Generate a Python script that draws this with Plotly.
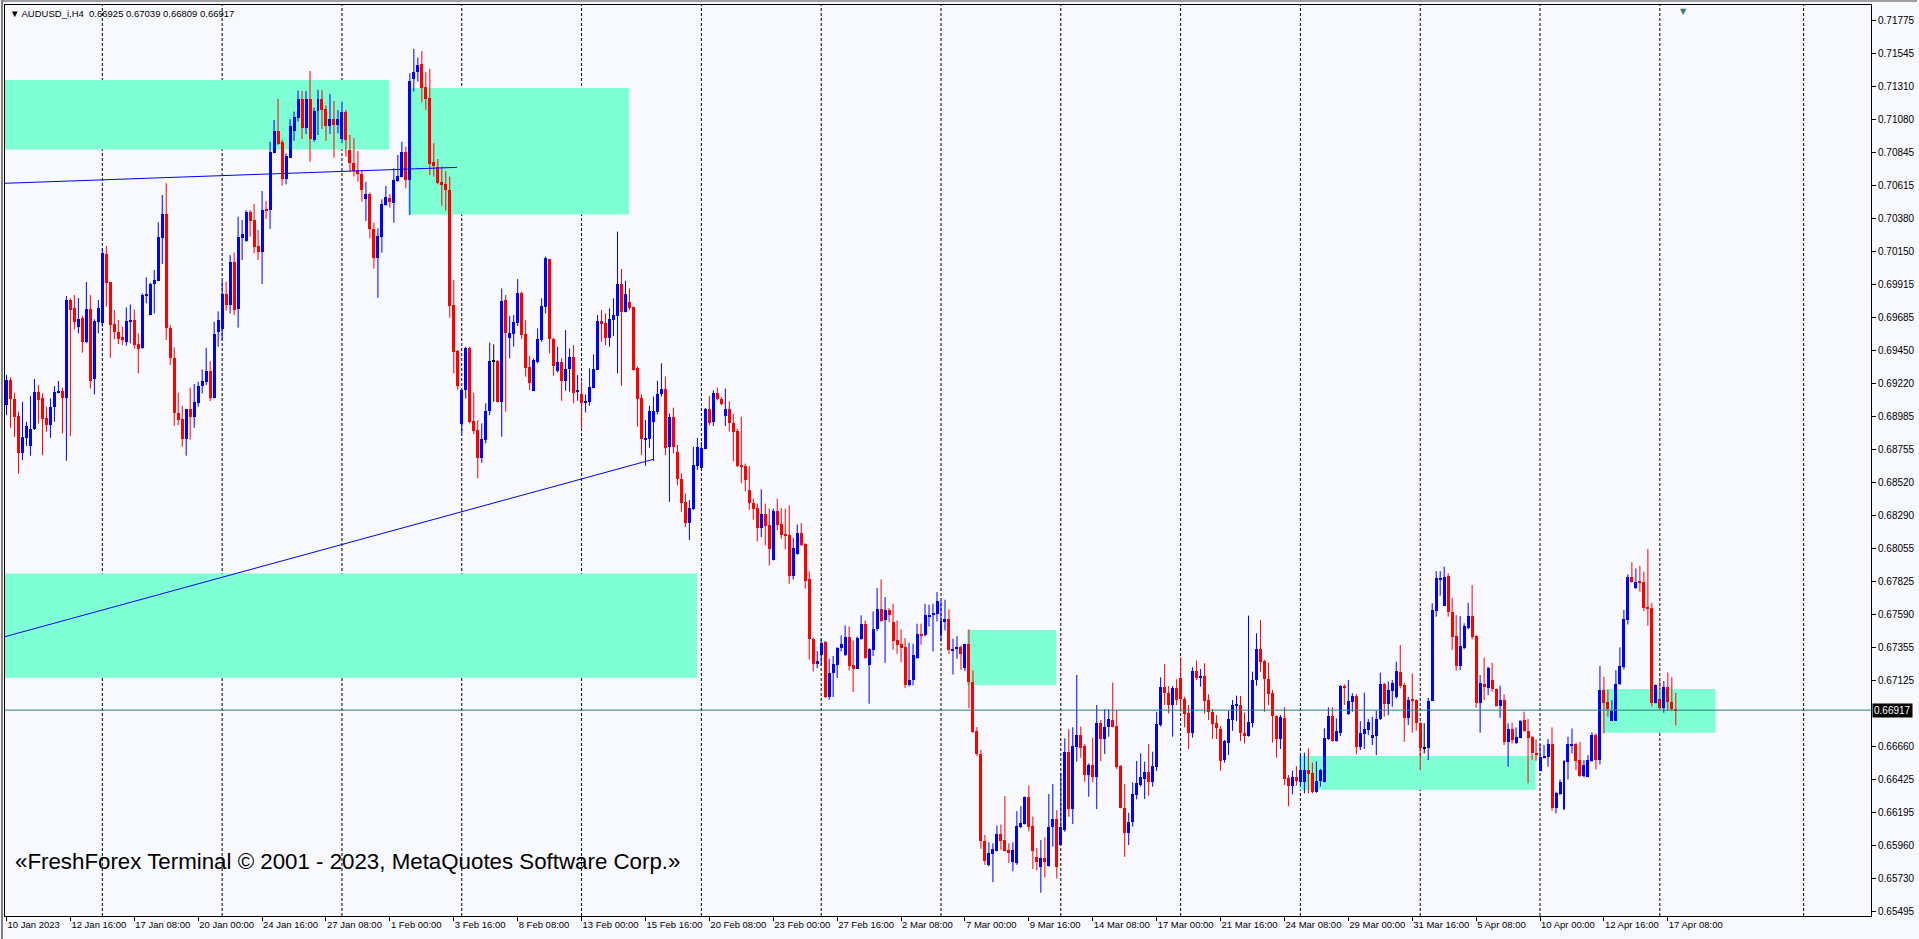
import plotly.graph_objects as go

# ---------------- data (AUDUSD_i, H4) ----------------
open_ = [
 0.69067,0.69243,0.69109,0.68989,0.68726,0.68836,0.68780,0.68895,0.69158,0.69114,
 0.68973,0.68926,0.69055,0.69154,0.69165,0.69118,0.69807,0.69751,0.69619,0.69678,
 0.69509,0.69744,0.69248,0.69654,0.69643,0.70129,0.69934,0.69638,0.69584,0.69544,
 0.69513,0.69654,0.69666,0.69494,0.69471,0.69838,0.69701,0.69920,0.69941,0.70247,
 0.70413,0.69607,0.69396,0.69013,0.68966,0.68827,0.69039,0.68984,0.69078,0.69201,
 0.69231,0.69306,0.69118,0.69584,0.69600,0.69849,0.69772,0.70077,0.69741,0.70247,
 0.70223,0.70425,0.70371,0.70188,0.70148,0.70441,0.70441,0.70846,0.70998,0.70921,
 0.70660,0.70810,0.71001,0.71092,0.71222,0.71022,0.71222,0.70935,0.71139,0.71222,
 0.71154,0.71036,0.71081,0.71041,0.70940,0.71135,0.70865,0.70775,0.70724,0.70695,
 0.70517,0.70554,0.70308,0.70105,0.70254,0.70477,0.70524,0.70493,0.70648,0.70677,
 0.70850,0.70653,0.71363,0.71412,0.71471,0.71311,0.71229,0.70780,0.70747,0.70639,
 0.70625,0.70583,0.69772,0.69450,0.68930,0.69173,0.69466,0.68954,0.68891,0.68696,
 0.68820,0.69024,0.69375,0.69377,0.69090,0.69807,0.69541,0.69565,0.69643,0.69859,
 0.69567,0.69337,0.69168,0.69368,0.69525,0.69760,0.70096,0.69532,0.69309,0.69372,
 0.69238,0.69318,0.69403,0.69156,0.69144,0.69083,0.69086,0.69189,0.69314,0.69659,
 0.69643,0.69541,0.69666,0.69694,0.69920,0.69725,0.69795,0.69760,0.69325,0.69118,
 0.68827,0.68827,0.68949,0.69020,0.69142,0.69180,0.68768,0.68980,0.68733,0.68545,
 0.68385,0.68233,0.68334,0.68639,0.68626,0.68760,0.69037,0.68948,0.69154,0.69112,
 0.68990,0.69037,0.68943,0.68882,0.68637,0.68637,0.68466,0.68379,0.68341,0.68203,
 0.68301,0.68224,0.67972,0.68320,0.68228,0.68160,0.68153,0.67862,0.68019,0.68167,
 0.68090,0.67843,0.67420,0.67244,0.67307,0.67397,0.67009,0.67178,0.67232,0.67354,
 0.67307,0.67436,0.67232,0.67209,0.67420,0.67521,0.67237,0.67342,0.67486,0.67631,
 0.67549,0.67620,0.67538,0.67408,0.67380,0.67361,0.67091,0.67126,0.67286,0.67451,
 0.67444,0.67578,0.67585,0.67596,0.67444,0.67538,0.67561,0.67338,0.67345,0.67361,
 0.67216,0.67380,0.67115,0.66769,0.66609,0.65998,0.65827,0.65904,0.65928,0.66045,
 0.66005,0.65935,0.65846,0.65841,0.66092,0.66116,0.66304,0.66104,0.65885,0.65814,
 0.65877,0.65818,0.66091,0.66150,0.65966,0.66072,0.66620,0.66220,0.66660,0.66742,
 0.66664,0.66460,0.66530,0.66448,0.66824,0.66714,0.66796,0.66848,0.66805,0.66523,
 0.66225,0.66053,0.66126,0.66319,0.66389,0.66429,0.66479,0.66408,0.66519,0.66812,
 0.67082,0.67036,0.66953,0.67071,0.67141,0.66996,0.66895,0.66754,0.67193,0.67146,
 0.67158,0.66989,0.66906,0.66824,0.66784,0.66566,0.66688,0.66848,0.66949,0.66953,
 0.66758,0.66737,0.66829,0.67130,0.67346,0.67263,0.67134,0.67036,0.66876,0.66714,
 0.66864,0.66436,0.66382,0.66443,0.66413,0.66413,0.66495,0.66472,0.66342,0.66420,
 0.66413,0.66711,0.66876,0.66699,0.66758,0.67090,0.66890,0.66977,0.67017,0.66659,
 0.66748,0.66776,0.66722,0.66737,0.66852,0.67101,0.66960,0.67054,0.67011,0.67188,
 0.67094,0.66863,0.66988,0.66988,0.66828,0.66653,0.66652,0.66981,0.67618,0.67841,
 0.67653,0.67865,0.67611,0.67439,0.67228,0.67357,0.67493,0.67580,0.67442,0.66969,
 0.67101,0.67070,0.67129,0.67066,0.66948,0.66988,0.66694,0.66784,0.66687,0.66722,
 0.66847,0.66772,0.66730,0.66617,0.66490,0.66581,0.66589,0.66678,0.66224,0.66325,
 0.66217,0.66553,0.66666,0.66676,0.66565,0.66455,0.66443,0.66560,0.66741,0.66565,
 0.67059,0.66972,0.66842,0.66842,0.67101,0.67218,0.67552,0.67858,0.67780,0.67827,
 0.67822,0.67646,0.67634,0.66964,0.66993,0.66929,0.67082,0.66972,0.66925,
]
high = [
 0.69278,0.69262,0.69154,0.69020,0.69090,0.68949,0.69130,0.69250,0.69208,0.69149,
 0.69055,0.69114,0.69201,0.69236,0.69191,0.69835,0.69819,0.69842,0.69821,0.69697,
 0.69934,0.69842,0.69671,0.69807,0.70167,0.70188,0.69934,0.69737,0.69666,0.69619,
 0.69755,0.69776,0.69741,0.69572,0.69854,0.69967,0.69929,0.70019,0.70355,0.70547,
 0.70630,0.69631,0.69473,0.69154,0.69062,0.69039,0.69189,0.69215,0.69231,0.69318,
 0.69471,0.69377,0.69654,0.69727,0.69943,0.69936,0.70124,0.70141,0.70394,0.70371,
 0.70441,0.70441,0.70484,0.70301,0.70575,0.70505,0.70923,0.71076,0.71224,0.70935,
 0.70841,0.71081,0.71135,0.71283,0.71280,0.71280,0.71421,0.71163,0.71288,0.71288,
 0.71179,0.71259,0.71210,0.71146,0.71205,0.71147,0.70970,0.70947,0.70857,0.70724,
 0.70639,0.70564,0.70352,0.70312,0.70517,0.70611,0.70554,0.70735,0.70829,0.70923,
 0.70888,0.71405,0.71577,0.71515,0.71562,0.71412,0.71436,0.70912,0.70801,0.70747,
 0.70714,0.70677,0.69948,0.69455,0.69177,0.69478,0.69478,0.69154,0.68961,0.68938,
 0.69079,0.69506,0.69494,0.69384,0.69889,0.69842,0.69694,0.69701,0.69955,0.69866,
 0.69666,0.69412,0.69396,0.69607,0.69819,0.70113,0.70096,0.69541,0.69478,0.69396,
 0.69596,0.69466,0.69490,0.69278,0.69231,0.69142,0.69325,0.69424,0.69701,0.69737,
 0.69713,0.69748,0.69819,0.70289,0.70026,0.69943,0.69889,0.69760,0.69337,0.69142,
 0.68961,0.69062,0.69126,0.69238,0.69361,0.69267,0.69008,0.69048,0.68785,0.68585,
 0.68444,0.68397,0.68773,0.68836,0.68807,0.69046,0.69131,0.69171,0.69190,0.69124,
 0.69183,0.69093,0.69006,0.68901,0.68983,0.68654,0.68637,0.68407,0.68372,0.68473,
 0.68372,0.68337,0.68337,0.68407,0.68341,0.68337,0.68360,0.68132,0.68226,0.68235,
 0.68094,0.67895,0.67427,0.67333,0.67420,0.67404,0.67279,0.67298,0.67361,0.67444,
 0.67514,0.67507,0.67408,0.67436,0.67585,0.67549,0.67354,0.67613,0.67777,0.67838,
 0.67714,0.67636,0.67667,0.67549,0.67486,0.67425,0.67392,0.67385,0.67526,0.67526,
 0.67667,0.67660,0.67667,0.67749,0.67690,0.67695,0.67627,0.67420,0.67439,0.67373,
 0.67385,0.67486,0.67197,0.66797,0.66637,0.66038,0.65986,0.65979,0.66104,0.66111,
 0.66311,0.65979,0.65986,0.66205,0.66240,0.66308,0.66386,0.66167,0.65947,0.66002,
 0.66020,0.66326,0.66396,0.66213,0.66476,0.66718,0.66784,0.66796,0.67165,0.66801,
 0.66678,0.66542,0.66723,0.66953,0.66848,0.66925,0.66923,0.67111,0.66918,0.66530,
 0.66396,0.66194,0.66408,0.66559,0.66613,0.66554,0.66678,0.66624,0.66906,0.67148,
 0.67242,0.67087,0.67087,0.67134,0.67289,0.67012,0.66953,0.67219,0.67266,0.67207,
 0.67247,0.67028,0.66923,0.66883,0.66805,0.66707,0.66913,0.66989,0.67019,0.67017,
 0.66899,0.67583,0.67188,0.67459,0.67553,0.67271,0.67252,0.67059,0.66880,0.66883,
 0.66937,0.66460,0.66490,0.66523,0.66601,0.66617,0.66648,0.66547,0.66556,0.66502,
 0.66789,0.66937,0.66937,0.66859,0.67094,0.67099,0.67130,0.67036,0.67031,0.66840,
 0.67040,0.66854,0.66871,0.66913,0.67181,0.67110,0.67118,0.67129,0.67258,0.67376,
 0.67110,0.67011,0.67176,0.66993,0.66835,0.66824,0.67004,0.67670,0.67897,0.67897,
 0.67928,0.67881,0.67709,0.67587,0.67580,0.67529,0.67674,0.67799,0.67446,0.67164,
 0.67286,0.67223,0.67251,0.67070,0.67089,0.67028,0.66824,0.66828,0.66795,0.66847,
 0.66906,0.66854,0.66734,0.66711,0.66678,0.66671,0.66713,0.66795,0.66342,0.66429,
 0.66565,0.66730,0.66788,0.66687,0.66694,0.66565,0.66600,0.66760,0.66753,0.67228,
 0.67153,0.67059,0.66988,0.67199,0.67359,0.67623,0.67874,0.67959,0.67916,0.67933,
 0.67893,0.68053,0.67674,0.67098,0.67122,0.67122,0.67183,0.67148,0.67039,
]
low = [
 0.68996,0.68907,0.68843,0.68585,0.68679,0.68780,0.68710,0.68891,0.68938,0.68714,
 0.68879,0.68836,0.68949,0.69149,0.68867,0.68674,0.68850,0.69600,0.69572,0.69436,
 0.69502,0.69184,0.69142,0.69572,0.69619,0.69760,0.69400,0.69530,0.69497,0.69490,
 0.69485,0.69502,0.69464,0.69290,0.69464,0.69784,0.69701,0.69713,0.69941,0.70061,
 0.69525,0.69349,0.68921,0.68926,0.68773,0.68710,0.68825,0.68907,0.69055,0.69149,
 0.69208,0.69095,0.69114,0.69478,0.69525,0.69732,0.69713,0.69701,0.69612,0.70089,
 0.70218,0.70254,0.70136,0.70089,0.69920,0.70378,0.70308,0.70841,0.70900,0.70613,
 0.70622,0.70810,0.70930,0.71064,0.70942,0.70977,0.70782,0.70923,0.70970,0.71013,
 0.70930,0.70977,0.70810,0.70982,0.70912,0.70818,0.70712,0.70677,0.70641,0.70500,
 0.70364,0.70242,0.70028,0.69823,0.70141,0.70472,0.70458,0.70352,0.70641,0.70672,
 0.70594,0.70406,0.71276,0.71346,0.71201,0.71147,0.70688,0.70677,0.70622,0.70472,
 0.70437,0.69683,0.69290,0.69177,0.68867,0.69114,0.68938,0.68862,0.68550,0.68660,
 0.68797,0.68996,0.69090,0.69086,0.68844,0.69020,0.69396,0.69478,0.69624,0.69532,
 0.69267,0.69173,0.69168,0.69361,0.69513,0.69713,0.69431,0.69274,0.69297,0.69097,
 0.69168,0.69161,0.69079,0.69097,0.68895,0.69015,0.69062,0.69184,0.69314,0.69513,
 0.69490,0.69478,0.69553,0.69290,0.69203,0.69720,0.69737,0.69309,0.68914,0.68714,
 0.68639,0.68766,0.68672,0.69001,0.69126,0.68714,0.68385,0.68726,0.68503,0.68315,
 0.68209,0.68115,0.68327,0.68609,0.68619,0.68755,0.68924,0.68919,0.69100,0.69065,
 0.68919,0.68882,0.68670,0.68630,0.68517,0.68459,0.68329,0.68259,0.68106,0.68137,
 0.68078,0.67937,0.67972,0.68184,0.68125,0.68050,0.67808,0.67838,0.68012,0.68073,
 0.67773,0.67274,0.67190,0.67213,0.67232,0.67002,0.66990,0.67009,0.67143,0.67331,
 0.67298,0.67197,0.67044,0.67209,0.67413,0.67279,0.66962,0.67298,0.67474,0.67538,
 0.67251,0.67538,0.67342,0.67314,0.67255,0.67072,0.67084,0.67091,0.67279,0.67378,
 0.67437,0.67507,0.67331,0.67542,0.67401,0.67479,0.67314,0.67168,0.67279,0.67201,
 0.67192,0.66931,0.66757,0.66593,0.65940,0.65827,0.65817,0.65705,0.65921,0.65933,
 0.65921,0.65841,0.65782,0.65827,0.66085,0.66111,0.66062,0.65798,0.65787,0.65630,
 0.65738,0.65814,0.65955,0.65731,0.65966,0.66060,0.66166,0.66114,0.66554,0.66582,
 0.66413,0.66307,0.66408,0.66220,0.66558,0.66608,0.66730,0.66796,0.66502,0.66225,
 0.65884,0.65966,0.66096,0.66288,0.66378,0.66291,0.66314,0.66378,0.66488,0.66801,
 0.66953,0.66894,0.66730,0.66953,0.66906,0.66796,0.66643,0.66723,0.67129,0.67082,
 0.66894,0.66848,0.66714,0.66714,0.66490,0.66547,0.66601,0.66772,0.66840,0.66699,
 0.66683,0.66730,0.66796,0.67090,0.67188,0.66906,0.66953,0.66688,0.66582,0.66643,
 0.66389,0.66241,0.66323,0.66385,0.66378,0.66331,0.66331,0.66331,0.66335,0.66378,
 0.66408,0.66707,0.66695,0.66695,0.66735,0.66953,0.66883,0.66906,0.66606,0.66636,
 0.66643,0.66741,0.66671,0.66600,0.66847,0.66871,0.66882,0.66941,0.66999,0.67070,
 0.66694,0.66812,0.66758,0.66772,0.66494,0.66612,0.66565,0.66981,0.67576,0.67724,
 0.67653,0.67576,0.67341,0.67195,0.67200,0.67345,0.67486,0.67416,0.66934,0.66758,
 0.66988,0.67023,0.67047,0.66941,0.66863,0.66671,0.66518,0.66682,0.66678,0.66718,
 0.66765,0.66401,0.66565,0.66560,0.66490,0.66577,0.66518,0.66208,0.66189,0.66318,
 0.66213,0.66429,0.66612,0.66494,0.66447,0.66443,0.66443,0.66553,0.66499,0.66534,
 0.66753,0.66871,0.66842,0.66840,0.67094,0.67204,0.67521,0.67815,0.67771,0.67752,
 0.67615,0.67512,0.66941,0.66964,0.66918,0.66899,0.66910,0.66910,0.66809,
]
close = [
 0.69243,0.69109,0.68984,0.68726,0.68839,0.68919,0.68895,0.69158,0.69102,0.68968,
 0.68926,0.69055,0.69158,0.69165,0.69118,0.69807,0.69737,0.69654,0.69673,0.69513,
 0.69744,0.69238,0.69657,0.69751,0.70136,0.69929,0.69631,0.69584,0.69532,0.69530,
 0.69659,0.69666,0.69490,0.69464,0.69842,0.69849,0.69920,0.69948,0.70251,0.70413,
 0.69607,0.69396,0.69008,0.68961,0.68827,0.69039,0.68984,0.69090,0.69201,0.69236,
 0.69306,0.69118,0.69567,0.69666,0.69849,0.69772,0.70077,0.69737,0.70251,0.70275,
 0.70425,0.70364,0.70183,0.70148,0.70441,0.70437,0.70848,0.70998,0.70907,0.70658,
 0.70822,0.71034,0.71100,0.71222,0.71022,0.71222,0.70940,0.71139,0.71222,0.71146,
 0.71036,0.71081,0.71041,0.71081,0.71135,0.70935,0.70771,0.70719,0.70693,0.70583,
 0.70554,0.70305,0.70105,0.70258,0.70484,0.70536,0.70500,0.70653,0.70681,0.70850,
 0.70653,0.71351,0.71412,0.71464,0.71304,0.71224,0.70766,0.70752,0.70634,0.70618,
 0.70583,0.69767,0.69443,0.69203,0.69173,0.69466,0.68945,0.68886,0.68696,0.68827,
 0.69024,0.69377,0.69375,0.69090,0.69800,0.69572,0.69577,0.69654,0.69859,0.69560,
 0.69330,0.69224,0.69384,0.69532,0.69767,0.70101,0.69530,0.69344,0.69372,0.69238,
 0.69321,0.69403,0.69154,0.69173,0.69083,0.69095,0.69196,0.69321,0.69659,0.69638,
 0.69541,0.69673,0.69701,0.69920,0.69725,0.69849,0.69753,0.69314,0.69109,0.68827,
 0.68836,0.69024,0.69024,0.69142,0.69180,0.68766,0.68985,0.68768,0.68543,0.68378,
 0.68233,0.68343,0.68644,0.68773,0.68764,0.69037,0.68940,0.69154,0.69112,0.69072,
 0.69037,0.68940,0.68877,0.68635,0.68635,0.68536,0.68376,0.68337,0.68203,0.68301,
 0.68214,0.68050,0.68320,0.68224,0.68153,0.68149,0.67862,0.68062,0.68167,0.68078,
 0.67827,0.67420,0.67244,0.67260,0.67392,0.67009,0.67178,0.67239,0.67354,0.67385,
 0.67436,0.67227,0.67209,0.67425,0.67521,0.67286,0.67350,0.67490,0.67631,0.67545,
 0.67620,0.67585,0.67404,0.67378,0.67357,0.67091,0.67126,0.67307,0.67451,0.67444,
 0.67589,0.67589,0.67603,0.67686,0.67542,0.67561,0.67338,0.67350,0.67361,0.67314,
 0.67380,0.67115,0.66762,0.66605,0.65994,0.65857,0.65909,0.65940,0.66045,0.65998,
 0.65928,0.65909,0.65935,0.66104,0.66123,0.66304,0.66097,0.65923,0.65850,0.65877,
 0.65849,0.66091,0.66150,0.65814,0.66091,0.66620,0.66220,0.66664,0.66742,0.66653,
 0.66460,0.66530,0.66448,0.66824,0.66714,0.66801,0.66855,0.66801,0.66519,0.66225,
 0.66053,0.66126,0.66326,0.66406,0.66443,0.66479,0.66408,0.66523,0.66819,0.67082,
 0.67036,0.66953,0.67075,0.66989,0.66996,0.66890,0.66754,0.67193,0.67146,0.67158,
 0.66984,0.66902,0.66819,0.66789,0.66561,0.66699,0.66855,0.66953,0.66953,0.66758,
 0.66737,0.66831,0.67130,0.67346,0.67259,0.67134,0.67028,0.66876,0.66714,0.66866,
 0.66432,0.66382,0.66443,0.66417,0.66495,0.66495,0.66467,0.66338,0.66420,0.66495,
 0.66718,0.66876,0.66699,0.66770,0.67087,0.67078,0.66982,0.67019,0.66660,0.66758,
 0.66784,0.66835,0.66741,0.66854,0.67101,0.66960,0.67059,0.67110,0.67192,0.67087,
 0.66863,0.66988,0.66983,0.66828,0.66652,0.66653,0.66981,0.67623,0.67846,0.67850,
 0.67857,0.67606,0.67434,0.67228,0.67369,0.67510,0.67580,0.67434,0.66969,0.67106,
 0.67077,0.67211,0.67063,0.66948,0.66988,0.66694,0.66784,0.66706,0.66729,0.66840,
 0.66772,0.66722,0.66612,0.66600,0.66589,0.66593,0.66676,0.66224,0.66330,0.66408,
 0.66558,0.66676,0.66678,0.66560,0.66455,0.66530,0.66565,0.66741,0.66565,0.67059,
 0.66969,0.66922,0.66910,0.67101,0.67228,0.67559,0.67858,0.67818,0.67818,0.67815,
 0.67639,0.67634,0.66964,0.67094,0.66934,0.67082,0.66972,0.66922,0.66917,
]
assert len(open_) == len(high) == len(low) == len(close), (len(open_), len(high), len(low), len(close))

symbol = "AUDUSD_i,H4"
date_labels = ["10 Jan 2023", "12 Jan 16:00", "17 Jan 08:00", "20 Jan 00:00", "24 Jan 16:00",
               "27 Jan 08:00", "1 Feb 00:00", "3 Feb 16:00", "8 Feb 08:00", "13 Feb 00:00",
               "15 Feb 16:00", "20 Feb 08:00", "23 Feb 00:00", "27 Feb 16:00", "2 Mar 08:00",
               "7 Mar 00:00", "9 Mar 16:00", "14 Mar 08:00", "17 Mar 00:00", "21 Mar 16:00",
               "24 Mar 08:00", "29 Mar 00:00", "31 Mar 16:00", "5 Apr 08:00", "10 Apr 00:00",
               "12 Apr 16:00", "17 Apr 08:00"]
date_label_bars = [0, 16, 32, 48, 64, 80, 96, 112, 128, 144, 160, 176, 192, 208, 224, 240,
                   256, 272, 288, 304, 320, 336, 352, 368, 384, 400, 416]
week_grid_bars = [24, 54, 84, 114, 144, 174, 204, 234, 264, 294, 324, 354, 384, 414, 450]
price_ticks = [0.71775, 0.71545, 0.71310, 0.71080, 0.70845, 0.70615, 0.70380, 0.70150,
               0.69915, 0.69685, 0.69450, 0.69220, 0.68985, 0.68755, 0.68520, 0.68290,
               0.68055, 0.67825, 0.67590, 0.67355, 0.67125, 0.66660, 0.66425, 0.66195,
               0.65960, 0.65730, 0.65495]
bid = 0.66917

# supply/demand rectangles (bar index, price)
box_x0 = [-1.0, 100.95, -1.0, 240.9, 324.05, 400.05]
box_x1 = [95.9, 155.9, 172.9, 262.9, 382.9, 427.9]
box_top = [0.71358, 0.71302, 0.67880, 0.67481, 0.66594, 0.67066]
box_bottom = [0.70867, 0.70409, 0.67145, 0.67093, 0.66356, 0.66758]

# trend lines
trend1_x = [-1.0, 112.8]
trend1_y = [0.70629, 0.70742]
trend2_x = [-1.0, 161.9]
trend2_y = [0.67430, 0.68684]

# ---------------- styling ----------------
BG = "#F8F8FF"
UP = "#0000FF"
DOWN = "#FF0000"
DOJI = "#000000"
BOX = "#7FFFD4"
BIDC = "#2B7F7F"
FONT = "Liberation Sans, Arial, DejaVu Sans, sans-serif"
BODY_W = 0.75
MIN_BODY = 0.00007

groups = {UP: ([], [], [], [], []), DOWN: ([], [], [], [], []), DOJI: ([], [], [], [], [])}
for i, (o, h, l, c) in enumerate(zip(open_, high, low, close)):
    col = UP if c > o else (DOWN if c < o else DOJI)
    bx, bb, bh, wx, wy = groups[col]
    lo_b = min(o, c)
    hgt = abs(c - o)
    if hgt < MIN_BODY:
        lo_b = (o + c) / 2 - MIN_BODY / 2
        hgt = MIN_BODY
    bx.append(i); bb.append(lo_b); bh.append(hgt)
    wx += [i, i, None]; wy += [l, h, None]

fig = go.Figure()
for col, (bx, bb, bh, wx, wy) in groups.items():
    fig.add_trace(go.Scatter(x=wx, y=wy, mode="lines", line=dict(color=col, width=1),
                             hoverinfo="skip", showlegend=False))
for col, (bx, bb, bh, wx, wy) in groups.items():
    fig.add_trace(go.Bar(x=bx, y=bh, base=bb, width=BODY_W,
                         marker=dict(color=col, line=dict(width=0)),
                         hoverinfo="skip", showlegend=False))

W, H = 1919, 939
ML, MR, MT, MB = 4, 46, 5, 23
plot_w = W - ML - MR
plot_h = H - MT - MB

shapes = []
for x0, x1, t, b in zip(box_x0, box_x1, box_top, box_bottom):
    shapes.append(dict(type="rect", xref="x", yref="y", x0=x0 - 0.375, x1=x1, y0=b, y1=t,
                       fillcolor=BOX, line=dict(width=0), layer="below"))
for g in week_grid_bars:
    shapes.append(dict(type="line", xref="x", yref="paper", x0=g, x1=g, y0=0, y1=1,
                       line=dict(color="black", width=1, dash="3px,2px"), layer="below"))
for tx, ty in ((trend1_x, trend1_y), (trend2_x, trend2_y)):
    shapes.append(dict(type="line", xref="x", yref="y", x0=tx[0], x1=tx[1], y0=ty[0], y1=ty[1],
                       line=dict(color="#0000FF", width=1), layer="above"))
shapes.append(dict(type="line", xref="paper", yref="y", x0=0, x1=1, y0=bid, y1=bid,
                   line=dict(color=BIDC, width=1), layer="above"))
# window frame (top / left edges)
shapes.append(dict(type="line", xref="paper", yref="paper", x0=-ML / plot_w, x1=(W - ML) / plot_w,
                   y0=1 + (MT - 1) / plot_h, y1=1 + (MT - 1) / plot_h,
                   line=dict(color="#A0A0A0", width=2), layer="above"))
shapes.append(dict(type="line", xref="paper", yref="paper", x0=-(ML - 1) / plot_w, x1=-(ML - 1) / plot_w,
                   y0=-MB / plot_h, y1=1 + MT / plot_h,
                   line=dict(color="#808080", width=2), layer="above"))

header = "\u25BC " + symbol + "\u00a0\u00a0" + " ".join(f"{v:.5f}" for v in (open_[-1], high[-1], low[-1], close[-1]))

annotations = [
    dict(xref="paper", yref="paper", x=3 / plot_w, y=1 - 9 / plot_h, xanchor="left", yanchor="middle",
         text=header, showarrow=False, font=dict(family=FONT, size=9.5, color="black")),
    dict(xref="paper", yref="paper", x=8 / plot_w, y=55 / plot_h, xanchor="left", yanchor="middle",
         text="\u00abFreshForex Terminal \u00a9 2001 - 2023, MetaQuotes Software Corp.\u00bb",
         showarrow=False, font=dict(family=FONT, size=22.3, color="black")),
    dict(xref="paper", yref="y", x=1, y=bid, xanchor="left", yanchor="middle", xshift=1,
         text=f"{bid:.5f}", showarrow=False, bgcolor="black", borderpad=1,
         font=dict(family=FONT, size=10, color="white")),
    dict(xref="x", yref="paper", x=len(open_) + 1, y=1, xanchor="center", yanchor="top",
         text="\u25BC", showarrow=False, font=dict(family="DejaVu Sans", size=8, color="#2E7D6B")),
]

x_lo = -0.375
x_hi = x_lo + plot_w / 4.0
y_hi = 0.71886
y_lo = y_hi - plot_h / 14191.0

fig.update_layout(
    width=W, height=H, autosize=False,
    margin=dict(l=ML, r=MR, t=MT, b=MB, pad=0),
    paper_bgcolor=BG, plot_bgcolor=BG,
    barmode="overlay", bargap=0, showlegend=False, hovermode=False,
    shapes=shapes, annotations=annotations,
    xaxis=dict(range=[x_lo, x_hi], tickmode="array", tickvals=date_label_bars, ticktext=date_labels,
               ticks="outside", ticklen=4, tickcolor="black", tickwidth=1, tickangle=0,
               ticklabelposition="outside right",
               tickfont=dict(family=FONT, size=9.5, color="black"),
               showgrid=False, zeroline=False, showline=True, linecolor="black", linewidth=1,
               mirror=True, fixedrange=True),
    yaxis=dict(side="right", range=[y_lo, y_hi], tickmode="array", tickvals=price_ticks,
               ticktext=[f"{v:.5f}" for v in price_ticks],
               ticks="outside", ticklen=4, tickcolor="black", tickwidth=1,
               tickfont=dict(family=FONT, size=10, color="black"),
               showgrid=False, zeroline=False, showline=True, linecolor="black", linewidth=1,
               mirror=True, fixedrange=True),
)

fig.write_html("out.html", config={"displayModeBar": False})
